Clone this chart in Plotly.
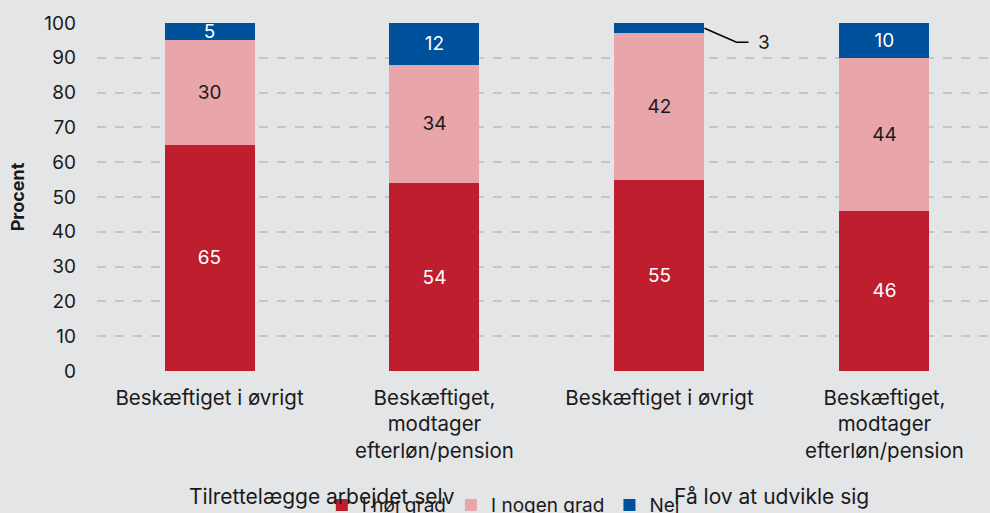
import plotly.graph_objects as go

categories = ["Beskæftiget i øvrigt", "Beskæftiget,<br>modtager<br>efterløn/pension",
              "Beskæftiget i øvrigt", "Beskæftiget,<br>modtager<br>efterløn/pension"]
groups = ["Tilrettelægge arbejdet selv", "Få lov at udvikle sig"]
hoej = [65, 54, 55, 46]
nogen = [30, 34, 42, 44]
nej = [5, 12, 3, 10]
y_ticks = list(range(0, 101, 10))

FONT = "Inter"
BG = "#e4e5e7"
x = list(range(len(categories)))

fig = go.Figure()
series = [("I høj grad", hoej, "#be1e2e", "white"),
          ("I nogen grad", nogen, "#e8a6ab", "#1a1a1a"),
          ("Nej", nej, "#00519b", "white")]
for name, vals, col, tcol in series:
    texts = [str(v) if v >= 5 else "" for v in vals]
    fig.add_trace(go.Bar(x=x, y=vals, name=name, marker=dict(color=col, line=dict(width=0)),
                         width=0.4, text=texts, textposition="inside", insidetextanchor="middle",
                         constraintext="none",
                         textfont=dict(color=tcol, size=19, family=FONT), textangle=0,
                         cliponaxis=False))

# leader for the small value
idx = nej.index(3)
ymid = hoej[idx] + nogen[idx] + nej[idx] / 2
fig.add_shape(type="path", xref="x", yref="y", xsizemode="pixel", ysizemode="pixel",
              xanchor=idx + 0.2, yanchor=ymid, path="M0,0 L32,-14 L44,-14",
              line=dict(color="black", width=1.5))
fig.add_annotation(x=idx + 0.2, y=ymid, xref="x", yref="y", text=str(nej[idx]), showarrow=False,
                   xshift=60, yshift=-14, font=dict(size=19, family=FONT, color="#1a1a1a"))

for i, g in enumerate(groups):
    fig.add_annotation(x=2 * i + 0.5, y=-0.362, xref="x", yref="paper", text=g, showarrow=False,
                       yanchor="middle", font=dict(size=21, family=FONT, color="#1a1a1a"))

fig.update_layout(
    width=990, height=513, barmode="stack",
    paper_bgcolor=BG, plot_bgcolor=BG,
    margin=dict(l=97, r=0, t=23, b=142, autoexpand=False),
    font=dict(family=FONT, size=19, color="#1a1a1a"),
    legend=dict(orientation="h", xref="paper", x=0.455, xanchor="center", y=-0.44, yanchor="bottom",
                font=dict(size=19, family=FONT), bgcolor="rgba(0,0,0,0)", itemwidth=30,
                traceorder="normal"),
    xaxis=dict(range=[-0.5, 3.469], tickvals=x, ticktext=categories, showgrid=False,
               zeroline=False, showline=False, ticks="", tickfont=dict(size=20.5),
               ticklabelstandoff=12),
    yaxis=dict(range=[0, 100], tickvals=y_ticks, showgrid=True, gridcolor="#c4c5c7",
               griddash="dash", gridwidth=1.5, zeroline=False, ticklabelstandoff=20,
               tickfont=dict(size=19),
               title=dict(text="<b>Procent</b>", font=dict(size=18, family=FONT), standoff=14)),
)
fig.write_html("out.html", config={"displayModeBar": False},
               post_script="document.body.style.margin='0';document.body.style.background='%s';" % BG)
